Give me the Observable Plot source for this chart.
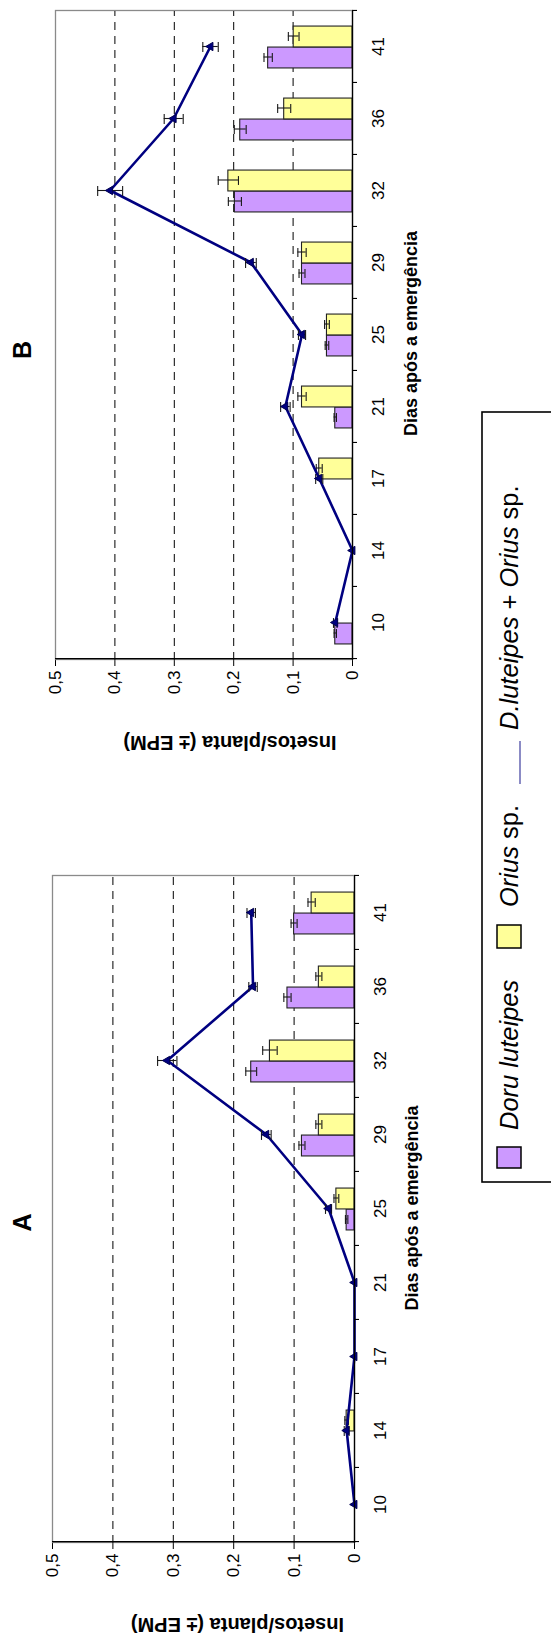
<!DOCTYPE html>
<html><head><meta charset="utf-8">
<script src="https://cdn.jsdelivr.net/npm/d3@7"></script>
<script src="https://cdn.jsdelivr.net/npm/@observablehq/plot@0.6"></script>
<style>
html,body{margin:0;padding:0;background:#fff;overflow:hidden}
#page{position:relative;width:551px;height:1642px;overflow:hidden;background:#fff}
#land{position:absolute;left:0;top:0;width:1642px;height:551px;transform-origin:0 0;transform:translate(0px,1642px) rotate(-90deg);font-family:"Liberation Sans",Arial,Helvetica,sans-serif;overflow:hidden}
.chart{position:absolute;top:0}
#legend{position:absolute;left:0;top:0}
</style></head><body>
<div id="page"><div id="land">
<div id="chartA" class="chart" style="left:0"></div>
<div id="chartB" class="chart" style="left:880px"></div>
<svg id="legend" width="1642" height="551" font-family="Liberation Sans, Arial, Helvetica, sans-serif">
  <rect x="460" y="482" width="770" height="100" fill="none" stroke="#000" stroke-width="1.6"/>
  <rect x="474" y="497" width="21" height="24" fill="#CC99FF" stroke="#000" stroke-width="1.5"/>
  <text x="512" y="518" font-size="25.5" font-style="italic">Doru luteipes</text>
  <rect x="694" y="497" width="23" height="24" fill="#FFFF99" stroke="#000" stroke-width="1.5"/>
  <text x="735" y="518" font-size="25.5"><tspan font-style="italic">Orius</tspan> sp.</text>
  <line x1="858" x2="901" y1="520" y2="520" stroke="#000080" stroke-opacity="0.7" stroke-width="1.3"/>
  <text x="912" y="518" font-size="25.5"><tspan font-style="italic">D.luteipes</tspan> + <tspan font-style="italic">Orius</tspan> sp.</text>
</svg>
</div></div>
<script>
// categories: days after emergence
const days = ["10","14","17","21","25","29","32","36","41"];
const yTicks = [0, 0.1, 0.2, 0.3, 0.4, 0.5];
const yTickLabels = ["0","0,1","0,2","0,3","0,4","0,5"];
const gridValues = [0.1, 0.2, 0.3, 0.4];

// Panel A
const doruA      = [0, 0,     0, 0, 0.013, 0.087, 0.171, 0.111, 0.100];
const doruAErr   = [0, 0,     0, 0, 0.002, 0.005, 0.009, 0.006, 0.005];
const oriusA     = [0, 0.013, 0, 0, 0.030, 0.059, 0.140, 0.059, 0.071];
const oriusAErr  = [0, 0.003, 0, 0, 0.004, 0.005, 0.012, 0.005, 0.006];
const totalA     = [0, 0.013, 0, 0, 0.043, 0.146, 0.310, 0.168, 0.171];
const totalAErr  = [0, 0.004, 0, 0, 0.005, 0.008, 0.016, 0.007, 0.007];

// Panel B
const doruB      = [0.029, 0, 0,     0.029, 0.043, 0.085, 0.198, 0.189, 0.142];
const doruBErr   = [0.002, 0, 0,     0.002, 0.003, 0.005, 0.011, 0.010, 0.007];
const oriusB     = [0,     0, 0.056, 0.085, 0.043, 0.085, 0.209, 0.115, 0.099];
const oriusBErr  = [0,     0, 0.005, 0.007, 0.004, 0.007, 0.017, 0.011, 0.009];
const totalB     = [0.029, 0, 0.056, 0.113, 0.085, 0.171, 0.408, 0.301, 0.239];
const totalBErr  = [0.003, 0, 0.006, 0.008, 0.006, 0.009, 0.021, 0.016, 0.013];

const xTitle = "Dias após a emergência";
const yTitle = "Insetos/planta (± EPM)";

function chart(o) {
  const {doru, doruErr, orius, oriusErr, total, totalErr, title, width, height, mL, mR, mT, mB, titleDx, titleDy, xtDx, xtDy, ytDx, ytDy} = o;
  const plotW = width - mL - mR, plotH = height - mT - mB;
  const bw = plotW / days.length;
  const barW = 21, cap = 4.5, half = barW / 2;
  const rows = days.map((d, i) => ({day: d, doru: doru[i], de: doruErr[i], orius: orius[i], oe: oriusErr[i], total: total[i], te: totalErr[i]}));
  const dRows = rows.filter(r => r.doru > 0);
  const oRows = rows.filter(r => r.orius > 0);
  const tRows = rows.filter(r => r.te > 0);
  const ink = "#1a1a1a";
  return Plot.plot({
    width, height, marginLeft: mL, marginRight: mR, marginTop: mT, marginBottom: mB,
    style: {fontFamily: '"Liberation Sans", Arial, Helvetica, sans-serif', fontSize: "17px", color: "#000", background: "transparent", overflow: "visible"},
    x: {type: "band", domain: days, padding: 0, align: 0.5, label: null, tickSize: 0, tickPadding: 19},
    y: {domain: [0, 0.5], ticks: yTicks, tickFormat: d => yTickLabels[yTicks.indexOf(d)], tickSize: 6, tickPadding: 5, label: null},
    marks: [
      Plot.frame({stroke: "#8a8a8a", strokeWidth: 1.3}),
      Plot.ruleY(gridValues, {stroke: "#000", strokeWidth: 1, strokeDasharray: "8,6"}),
      Plot.barY(dRows, {x: "day", y: "doru", fill: "#CC99FF", stroke: "#222", strokeWidth: 1.1, insetLeft: bw / 2 - barW, insetRight: bw / 2}),
      Plot.barY(oRows, {x: "day", y: "orius", fill: "#FFFF99", stroke: "#222", strokeWidth: 1.1, insetLeft: bw / 2, insetRight: bw / 2 - barW}),
      // error bars, Doru
      Plot.ruleX(dRows.filter(r => r.de > 0), {x: "day", y1: r => r.doru - r.de, y2: r => r.doru + r.de, dx: -half, stroke: ink, strokeWidth: 1.1}),
      Plot.tickY(dRows.filter(r => r.de > 0), {x: "day", y: r => r.doru - r.de, insetLeft: bw / 2 - half - cap, insetRight: bw / 2 + half - cap, stroke: ink, strokeWidth: 1.1}),
      Plot.tickY(dRows.filter(r => r.de > 0), {x: "day", y: r => r.doru + r.de, insetLeft: bw / 2 - half - cap, insetRight: bw / 2 + half - cap, stroke: ink, strokeWidth: 1.1}),
      // error bars, Orius
      Plot.ruleX(oRows.filter(r => r.oe > 0), {x: "day", y1: r => r.orius - r.oe, y2: r => r.orius + r.oe, dx: half, stroke: ink, strokeWidth: 1.1}),
      Plot.tickY(oRows.filter(r => r.oe > 0), {x: "day", y: r => r.orius - r.oe, insetLeft: bw / 2 + half - cap, insetRight: bw / 2 - half - cap, stroke: ink, strokeWidth: 1.1}),
      Plot.tickY(oRows.filter(r => r.oe > 0), {x: "day", y: r => r.orius + r.oe, insetLeft: bw / 2 + half - cap, insetRight: bw / 2 - half - cap, stroke: ink, strokeWidth: 1.1}),
      // total line
      Plot.line(rows, {x: "day", y: "total", stroke: "#000080", strokeWidth: 2.6}),
      Plot.ruleX(tRows, {x: "day", y1: r => r.total - r.te, y2: r => r.total + r.te, stroke: ink, strokeWidth: 1.1}),
      Plot.tickY(tRows, {x: "day", y: r => r.total - r.te, insetLeft: bw / 2 - 5, insetRight: bw / 2 - 5, stroke: ink, strokeWidth: 1.1}),
      Plot.tickY(tRows, {x: "day", y: r => r.total + r.te, insetLeft: bw / 2 - 5, insetRight: bw / 2 - 5, stroke: ink, strokeWidth: 1.1}),
      Plot.dot(rows, {x: "day", y: "total", symbol: "triangle", r: 3.1, fill: "#000080", stroke: "#000050", strokeWidth: 1}),
      // axis lines
      Plot.ruleY([0], {stroke: "#000", strokeWidth: 1.3}),
      Plot.ruleX([days[0]], {dx: -bw / 2, stroke: "#000", strokeWidth: 1.3}),
      // category boundary ticks
      Plot.tickX(days, {x: d => d, dx: bw / 2, insetTop: plotH, insetBottom: -5, stroke: "#000", strokeWidth: 1.1}),
      Plot.tickX([days[0]], {x: d => d, dx: -bw / 2, insetTop: plotH, insetBottom: -5, stroke: "#000", strokeWidth: 1.1}),
      // titles
      Plot.text([title], {text: d => d, frameAnchor: "top", lineAnchor: "top", textAnchor: "middle", dx: titleDx, dy: titleDy, fontSize: 25, fontWeight: "bold"}),
      Plot.text([xTitle], {text: d => d, frameAnchor: "bottom", lineAnchor: "top", textAnchor: "middle", dx: xtDx, dy: xtDy, fontSize: 18, fontWeight: "bold"}),
      Plot.text([yTitle], {text: d => d, frameAnchor: "left", rotate: -90, textAnchor: "middle", dx: ytDx, dy: ytDy, fontSize: 20, fontWeight: "bold"})
    ]
  });
}

document.getElementById("chartA").appendChild(chart({
  doru: doruA, doruErr: doruAErr, orius: oriusA, oriusErr: oriusAErr, total: totalA, totalErr: totalAErr,
  title: "A", width: 800, height: 470, mL: 99, mR: 34, mT: 52, mB: 116,
  titleDx: -13.5, titleDy: -39, xtDx: 1, xtDy: 51, ytDx: -82, ytDy: 34
}));
document.getElementById("chartB").appendChild(chart({
  doru: doruB, doruErr: doruBErr, orius: oriusB, oriusErr: oriusBErr, total: totalB, totalErr: totalBErr,
  title: "B", width: 762, height: 470, mL: 102, mR: 11, mT: 55, mB: 118,
  titleDx: -15, titleDy: -42, xtDx: 1.5, xtDy: 52, ytDx: -83, ytDy: 26
}));
</script>
</body></html>
